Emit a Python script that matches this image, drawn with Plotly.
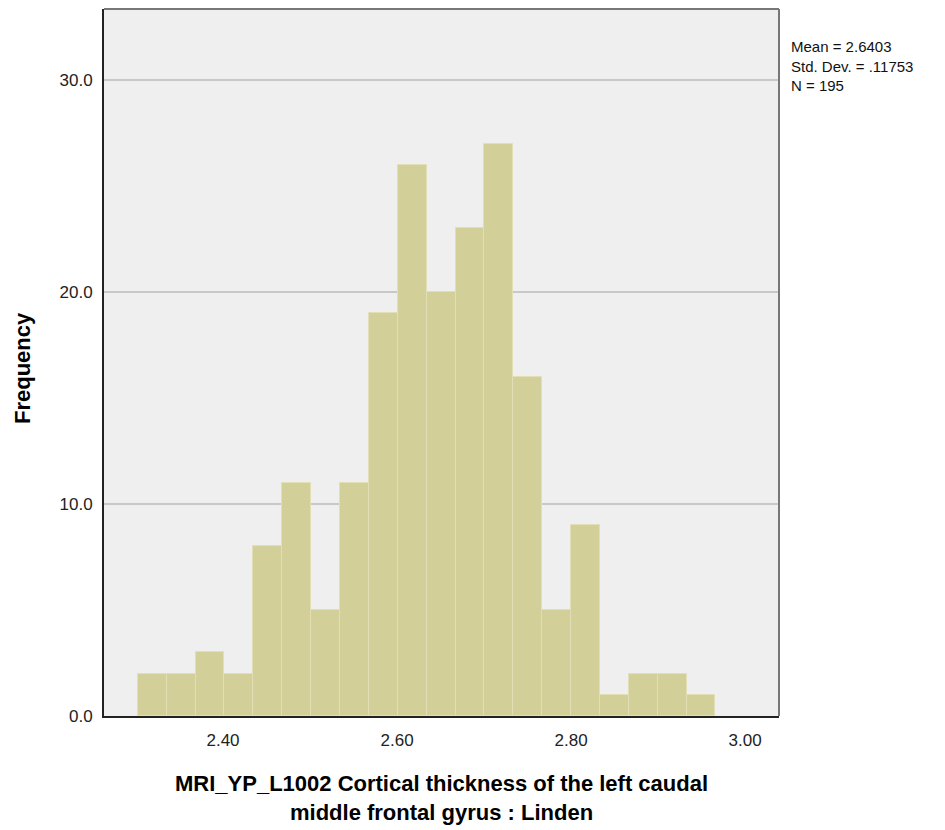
import plotly.graph_objects as go

# Histogram bins
bin_start = 2.302
bin_width = 0.0332
counts = [2, 2, 3, 2, 8, 11, 5, 11, 19, 26, 20, 23, 27, 16, 5, 9, 1, 2, 2, 1]
x_ticks = [2.40, 2.60, 2.80, 3.00]
x_tick_labels = ["2.40", "2.60", "2.80", "3.00"]
y_ticks = [0, 10, 20, 30]
y_tick_labels = ["0.0", "10.0", "20.0", "30.0"]
stats_lines = ["Mean = 2.6403", "Std. Dev. = .11753", "N = 195"]
x_title_lines = ["MRI_YP_L1002 Cortical thickness of the left caudal",
                 "middle frontal gyrus : Linden"]

centers = [bin_start + bin_width * (i + 0.5) for i in range(len(counts))]

fig = go.Figure()
fig.add_trace(go.Bar(
    x=centers,
    y=counts,
    width=bin_width,
    marker=dict(color="#D3CF98", line=dict(color="#E2DFB6", width=1)),
    showlegend=False,
))

font = "Liberation Sans, Arial, sans-serif"

# page has an 8px body margin, so the figure is a bit smaller than the window
fig.update_layout(
    width=937, height=822,
    margin=dict(l=96, r=166, t=1, b=114, autoexpand=False),
    paper_bgcolor="white",
    plot_bgcolor="#EFEFEF",
    bargap=0,
    font=dict(family=font, size=17, color="#222222"),
    xaxis=dict(
        range=[2.2632, 3.039],
        tickvals=x_ticks, ticktext=x_tick_labels,
        showgrid=False, zeroline=False,
        showline=True, linecolor="#222222", linewidth=2,
        ticks="", ticklabelstandoff=8,
        automargin=False,
    ),
    yaxis=dict(
        range=[0, 33.35],
        tickvals=y_ticks, ticktext=y_tick_labels,
        showgrid=True, gridcolor="#C8C8C8", gridwidth=2,
        zeroline=False,
        showline=True, linecolor="#222222", linewidth=2,
        ticks="", ticklabelstandoff=6,
        automargin=False,
    ),
)

# Grey frame on the top and right
fig.add_shape(type="line", xref="paper", yref="paper", x0=0, x1=1, y0=1, y1=1,
              line=dict(color="#777777", width=2))
fig.add_shape(type="line", xref="paper", yref="paper", x0=1, x1=1, y0=0, y1=1,
              line=dict(color="#777777", width=2))

# Axis titles
fig.add_annotation(text="<b>Frequency</b>", xref="paper", yref="paper",
                   x=-0.1215, y=0.4922, textangle=-90, showarrow=False,
                   xanchor="center", yanchor="middle",
                   font=dict(size=22, color="black"))
fig.add_annotation(text="<b>" + "<br>".join(x_title_lines) + "</b>",
                   xref="paper", yref="paper", x=0.5007, y=-0.1153,
                   showarrow=False, xanchor="center", yanchor="middle",
                   align="center", font=dict(size=22, color="black"))

# Summary statistics
fig.add_annotation(text="<br>".join(stats_lines), xref="paper", yref="paper",
                   x=1.0148, y=0.9194, xanchor="left", yanchor="middle",
                   align="left", showarrow=False,
                   font=dict(size=15, color="#111111"))

fig.write_html("out.html")
